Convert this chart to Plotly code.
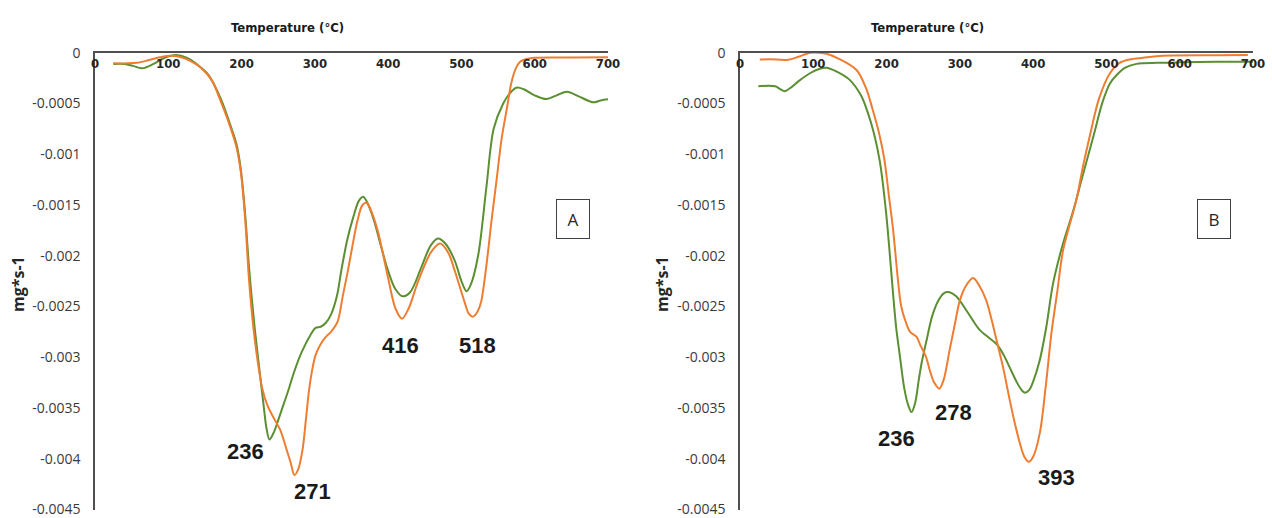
import plotly.graph_objects as go

# ---------------- data (temperature in °C, DTG in mg*s-1) ----------------
a_green_T = [25, 40, 52, 64, 80, 95, 111, 125, 140, 155, 172, 185, 193, 199, 205, 210, 217, 224, 230, 234, 238,
             244, 250, 258, 265, 271, 282, 294, 301, 308, 315, 322, 330, 336, 344, 352, 360, 366, 373, 381,
             390, 400, 410, 420, 430, 445, 458, 468, 478, 491, 500, 507, 513, 523, 534, 544, 557, 566, 575,
             585, 600, 616, 630, 644, 660, 680, 690, 700]
a_green_v = [-0.000111, -0.000111, -0.00013, -0.000154, -0.00011, -0.00005, -0.000023, -0.00005, -0.00012,
             -0.00022, -0.00046, -0.00072, -0.0009, -0.00115, -0.0016, -0.0021, -0.00265, -0.0031, -0.00347, -0.0037,
             -0.00381, -0.00374, -0.00362, -0.00345, -0.0033, -0.00316, -0.00295, -0.00278, -0.00271, -0.0027,
             -0.00266, -0.00258, -0.0024, -0.00215, -0.00185, -0.00163, -0.00146, -0.00142, -0.0015, -0.00166,
             -0.0019, -0.00215, -0.00233, -0.0024, -0.00236, -0.00212, -0.0019, -0.00183, -0.00188, -0.00205,
             -0.00225, -0.00235, -0.00228, -0.00199, -0.00133, -0.00075, -0.0005, -0.0004, -0.000345,
             -0.00036, -0.00042, -0.000456, -0.00042, -0.000384, -0.00043, -0.000489, -0.00047, -0.000459]

a_orange_T = [25, 45, 57, 70, 85, 102, 115, 130, 145, 160, 170, 185, 193, 199, 205, 210, 216, 222, 228, 235, 244,
              253, 261, 267, 272, 277, 283, 288, 292, 297, 301, 308, 315, 322, 331, 338, 345, 358, 365, 371,
              378, 386, 400, 410, 419, 428, 441, 459, 471, 482, 491, 504, 510, 516, 522, 527, 534, 541, 548,
              555, 562, 568, 574, 580, 590, 600, 650, 700]
a_orange_v = [-0.000105, -0.000105, -0.0001, -0.00008, -0.00005, -0.00003, -0.00004, -0.00008, -0.00015,
              -0.00028, -0.00045, -0.00074, -0.00093, -0.00118, -0.00165, -0.00222, -0.0027, -0.00304, -0.0033, -0.00347,
              -0.0036, -0.00372, -0.0039, -0.00404, -0.00416, -0.00411, -0.00392, -0.0036, -0.00333, -0.0031,
              -0.00298, -0.00287, -0.0028, -0.00275, -0.00265, -0.0024, -0.00215, -0.00166, -0.0015, -0.00148,
              -0.00158, -0.00176, -0.00222, -0.00252, -0.00262, -0.00252, -0.00225, -0.00196, -0.00188,
              -0.00197, -0.00215, -0.00245, -0.00257, -0.0026, -0.00255, -0.00245, -0.0021, -0.00166, -0.00125,
              -0.00084, -0.00055, -0.0003, -0.00016, -0.00009, -0.00006, -0.00005, -0.000048, -0.000045]

b_green_T = [25, 48, 55, 61, 70, 80, 96, 108, 118, 130, 150, 165, 173, 183, 191, 199, 204, 208, 213, 218,
             224, 229, 234, 239, 244, 248, 255, 262, 270, 278, 286, 295, 309, 318, 327, 340, 350, 360, 368,
             378, 385, 389, 395, 400, 409, 418, 427, 440, 455, 468, 482, 495, 505, 514, 525, 541, 570, 600,
             650, 700]
b_green_v = [-0.00033, -0.00033, -0.00036, -0.00038, -0.00034, -0.00028, -0.0002, -0.00016, -0.000148,
             -0.00018, -0.00027, -0.00042, -0.00056, -0.0008, -0.00108, -0.00155, -0.00195, -0.0023, -0.0027,
             -0.00298, -0.0033, -0.00346, -0.00354, -0.00345, -0.00322, -0.00305, -0.00282, -0.0026, -0.00245,
             -0.00237, -0.00236, -0.0024, -0.00254, -0.00264, -0.00273, -0.00281, -0.00287, -0.00298, -0.0031,
             -0.00325, -0.00333, -0.00335, -0.00332, -0.00324, -0.00303, -0.0027, -0.00228, -0.0019, -0.00155,
             -0.0012, -0.00083, -0.00048, -0.0003, -0.00022, -0.00015, -0.00011, -0.0001, -0.000095,
             -0.00009, -0.000088]

b_orange_T = [27, 50, 66, 80, 96, 108, 118, 135, 159, 172, 181, 190, 197, 203, 209, 215, 220, 227, 232, 241, 246,
              254, 259, 265, 272, 278, 286, 293, 300, 308, 318, 327, 336, 343, 350, 359, 368, 375, 382, 388,
              394, 400, 409, 417, 425, 433, 441, 459, 468, 477, 490, 505, 518, 532, 550, 577, 650, 693]
b_orange_v = [-0.000066, -0.000066, -0.00007, -0.00004, 0.0, 0.0, -0.00001, -0.00006, -0.00017, -0.00035,
              -0.00056, -0.0008, -0.00105, -0.0014, -0.00175, -0.0022, -0.0025, -0.00267, -0.00275, -0.0028, -0.00288,
              -0.003, -0.00313, -0.00325, -0.00331, -0.00322, -0.00293, -0.00268, -0.00244, -0.0023, -0.00222,
              -0.0023, -0.00244, -0.00262, -0.00283, -0.0031, -0.00342, -0.00365, -0.00385, -0.00398, -0.00403,
              -0.00398, -0.00375, -0.0033, -0.00276, -0.00235, -0.00194, -0.00145, -0.00112, -0.00083,
              -0.00045, -0.0002, -0.0001, -0.000066, -0.00005, -0.00003, -0.000025, -0.000023]

# peak labels: text, label anchor temperature, label anchor value
a_peak_text = ["236", "271", "416", "518"]
a_peak_T = [205, 297, 417, 522]
a_peak_v = [-0.00393, -0.00432, -0.00288, -0.00288]
b_peak_text = ["236", "278", "393"]
b_peak_T = [214, 291, 432]
b_peak_v = [-0.0038, -0.00354, -0.00418]

x_ticks = [0, 100, 200, 300, 400, 500, 600, 700]
y_ticks = [0, -0.0005, -0.001, -0.0015, -0.002, -0.0025, -0.003, -0.0035, -0.004, -0.0045]
y_ticktext = ["0", "-0.0005", "-0.001", "-0.0015", "-0.002", "-0.0025", "-0.003", "-0.0035", "-0.004", "-0.0045"]

GREEN = "#5b8f32"
ORANGE = "#ee7d31"
W, H = 1272, 518

fig = go.Figure()
for T, v, col, xa, ya in [
    (a_green_T, a_green_v, GREEN, "x", "y"),
    (a_orange_T, a_orange_v, ORANGE, "x", "y"),
    (b_green_T, b_green_v, GREEN, "x2", "y2"),
    (b_orange_T, b_orange_v, ORANGE, "x2", "y2"),
]:
    fig.add_trace(go.Scatter(x=T, y=v, mode="lines", xaxis=xa, yaxis=ya,
                             line=dict(color=col, width=2, shape="spline", smoothing=0.9),
                             showlegend=False, hoverinfo="skip"))

def px_x(p):
    return p / W

def px_y(p):
    return (H - p) / H

ydom = [px_y(509.5), px_y(52.7)]
axis_col = "#505050"
xcommon = dict(range=[0, 700], tickvals=x_ticks, side="top", ticklabelposition="inside",
               ticklabeloverflow="allow", automargin=False,
               showline=True, linecolor=axis_col, linewidth=1.5, showgrid=False, zeroline=False,
               ticks="", ticklabelstandoff=6,
               tickfont=dict(family="DejaVu Sans Condensed", size=13, weight="bold", color="#262626"))
ycommon = dict(range=[-0.0045, 0], tickvals=y_ticks, ticktext=y_ticktext, showline=True,
               ticklabeloverflow="allow", automargin=False,
               linecolor=axis_col, linewidth=1.5, showgrid=False, zeroline=False, ticks="",
               ticklabelstandoff=10,
               tickfont=dict(family="Open Sans", size=14, color="#3a3a3a"))

fig.update_layout(
    width=W, height=H, margin=dict(l=0, r=0, t=0, b=0, autoexpand=False),
    plot_bgcolor="white", paper_bgcolor="white",
    xaxis=dict(domain=[px_x(95), px_x(608)], anchor="y", **xcommon),
    yaxis=dict(domain=ydom, anchor="x", **ycommon),
    xaxis2=dict(domain=[px_x(740), px_x(1253)], anchor="y2", **xcommon),
    yaxis2=dict(domain=ydom, anchor="x2", **ycommon),
)

ann = []
for txt, T, v in zip(a_peak_text, a_peak_T, a_peak_v):
    ann.append(dict(x=T, y=v, xref="x", yref="y", text=txt, showarrow=False,
                    xanchor="center", yanchor="middle",
                    font=dict(family="Liberation Sans", size=22, weight="bold", color="#1a1a1a")))
for txt, T, v in zip(b_peak_text, b_peak_T, b_peak_v):
    ann.append(dict(x=T, y=v, xref="x2", yref="y2", text=txt, showarrow=False,
                    xanchor="center", yanchor="middle",
                    font=dict(family="Liberation Sans", size=22, weight="bold", color="#1a1a1a")))

for lab, cx in [("A", 573), ("B", 1214)]:
    ann.append(dict(x=px_x(cx), y=px_y(218.5), xref="paper", yref="paper", text=lab, showarrow=False,
                    xanchor="center", yanchor="middle",
                    width=24, height=30, borderpad=4, bordercolor="#404040", borderwidth=1,
                    font=dict(family="Open Sans", size=17, color="#262626")))

for cx in [287, 928]:
    ann.append(dict(x=px_x(cx), y=px_y(27), xref="paper", yref="paper", text="Temperature (°C)",
                    showarrow=False, xanchor="center", yanchor="middle",
                    font=dict(family="DejaVu Sans Condensed", size=13, weight="bold", color="#1a1a1a")))

for cx in [18, 662]:
    ann.append(dict(x=px_x(cx), y=px_y(284), xref="paper", yref="paper", text="mg*s-1", textangle=-90,
                    showarrow=False, xanchor="center", yanchor="middle",
                    font=dict(family="Open Sans", size=16, weight="bold", color="#262626")))

fig.update_layout(annotations=ann)
fig.write_html("out.html", config={"displayModeBar": False},
               post_script="document.body.style.margin='0px';document.body.style.overflow='hidden';")
